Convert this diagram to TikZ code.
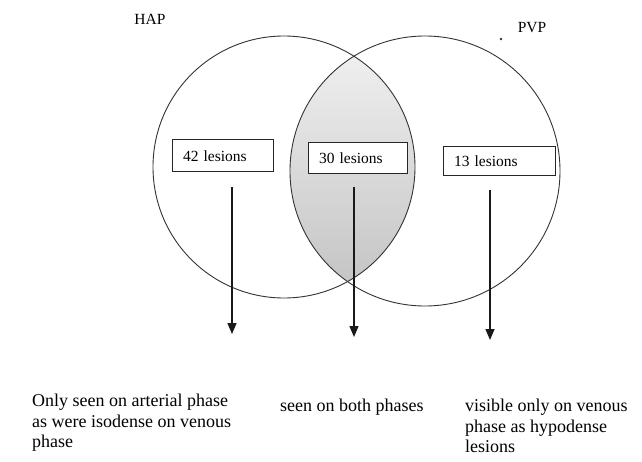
\documentclass[tikz,border=0pt]{standalone}
\usepackage{fontspec}
\setmainfont{Liberation Serif}
\usetikzlibrary{arrows.meta}
\begin{document}
\begin{tikzpicture}[x=1pt,y=-1pt,
  ring/.style={draw=black!80,line width=0.9pt},
  lbox/.style={draw=black!85,line width=1pt,fill=white,inner xsep=11pt,inner ysep=0pt,
    align=left,font=\fontsize{15.5}{18}\selectfont},
  arr/.style={draw=black!90,line width=1.4pt,-{Triangle[length=11pt,width=9pt]}},
  lab/.style={font=\fontsize{15.5}{18}\selectfont,inner sep=0pt},
  desc/.style={font=\fontsize{18}{20.5}\selectfont,inner sep=0pt,align=left,anchor=north west}]
\useasboundingbox[fill=white] (0,0) rectangle (642,462);
% lens
\begin{scope}
  \clip (284,167) circle (131pt);
  \clip (425,171) circle (135pt);
  \shade[top color=black!5,middle color=black!27,bottom color=black!24] (284,36) rectangle (425,300);
\end{scope}
\draw[ring] (284,167) circle (131pt);
\draw[ring] (425,171) circle (135pt);
% labels
\node[lab] (hap) at (150,19) {HAP};
\node[lab] (pvp) at (532,28) {PVP};
\fill[black!80] (501,39) circle (1.3pt);
% boxes
\node[lbox,minimum width=101pt,minimum height=32pt,text width=79pt] (b42) at (222.5,156) {42 lesions};
\node[lbox,minimum width=99pt,minimum height=31pt,text width=77pt] (b30) at (357.5,158.5) {30 lesions};
\node[lbox,minimum width=112pt,minimum height=29pt,text width=90pt] (b13) at (499,161.5) {13 lesions};
% arrows
\coordinate (s1) at (232,187); \coordinate (e1) at (232,334);
\coordinate (s2) at (354,187); \coordinate (e2) at (354,337);
\coordinate (s3) at (490,190); \coordinate (e3) at (490,340);
\draw[arr] (s1) -- (e1);
\draw[arr] (s2) -- (e2);
\draw[arr] (s3) -- (e3);
% descriptions
\node[desc] (t1) at (32,394) {Only seen on arterial phase\\as were isodense on venous\\phase};
\node[desc] (t2) at (280,399) {seen on both phases};
\node[desc] (t3) at (465,399) {visible only on venous\\phase as hypodense\\lesions};
\end{tikzpicture}
\end{document}
